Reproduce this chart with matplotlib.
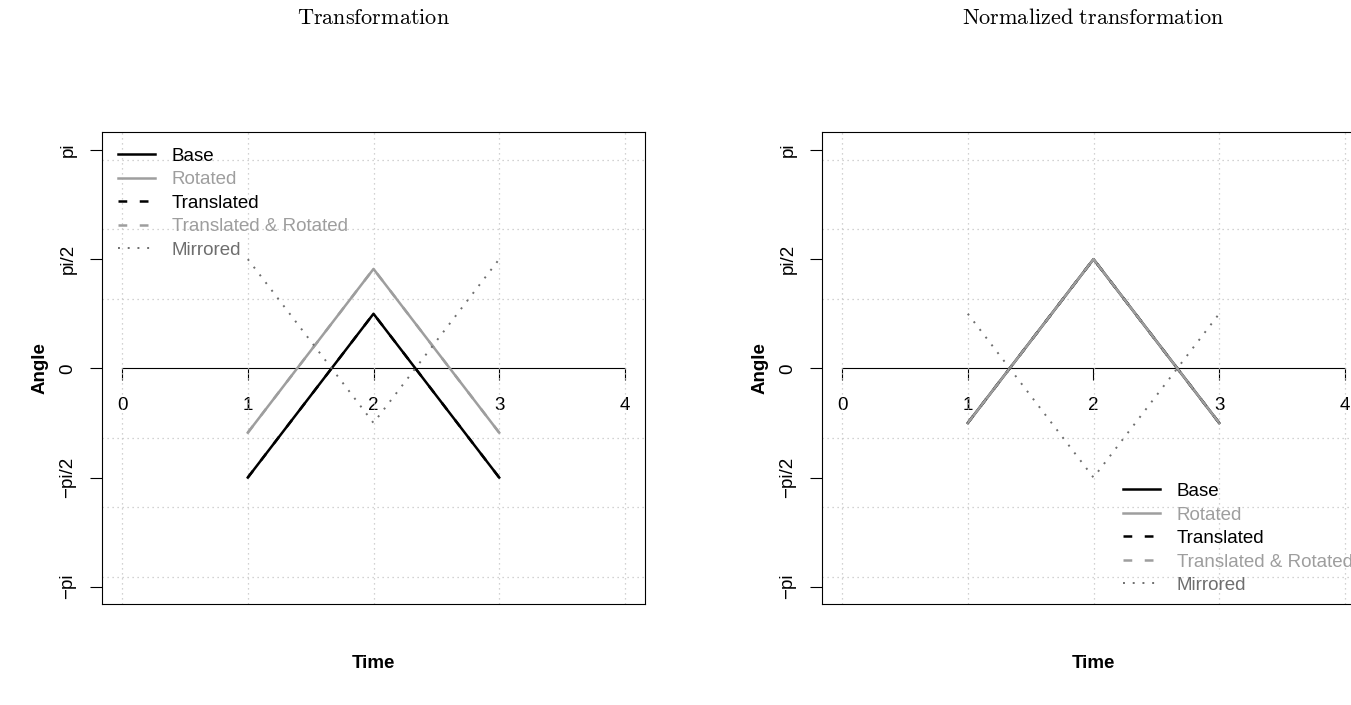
import numpy as np
import matplotlib
matplotlib.use('Agg')
from matplotlib import pyplot as plt

plt.rcParams['font.family'] = 'Liberation Sans'
plt.rcParams['mathtext.fontset'] = 'cm'

time = [1, 2, 3]

# angulos de cada serie
base = [-np.pi / 2, np.pi / 4, -np.pi / 2]
rotated = [-0.925, 1.43, -0.925]
translated = [-np.pi / 2, np.pi / 4, -np.pi / 2]
translated_rotated = [-0.925, 1.43, -0.925]
mirrored = [np.pi / 2, -np.pi / 4, np.pi / 2]

# las mismas series con la media restada
base_n = [-np.pi / 4, np.pi / 2, -np.pi / 4]
rotated_n = [-np.pi / 4, np.pi / 2, -np.pi / 4]
translated_n = [-np.pi / 4, np.pi / 2, -np.pi / 4]
translated_rotated_n = [-np.pi / 4, np.pi / 2, -np.pi / 4]
mirrored_n = [np.pi / 4, -np.pi / 2, np.pi / 4]

names = ['Base', 'Rotated', 'Translated', 'Translated & Rotated', 'Mirrored']
colors = ['black', '#9e9e9e', 'black', '#9e9e9e', '#6e6e6e']
styles = ['-', '-', (0, (3.5, 5)), (0, (3.5, 5)), (0, (1, 4))]
widths = [1.8, 1.8, 1.8, 1.8, 1.4]

y_ticks = [-np.pi, -np.pi / 2, 0, np.pi / 2, np.pi]
y_labels = ['\u2212pi', '\u2212pi/2', '0', 'pi/2', 'pi']
x_ticks = [0, 1, 2, 3, 4]

FS = 13.5
W, H = 1351, 705

fig = plt.figure(figsize=(W / 100, H / 100), dpi=100)


def panel(left_px, series, title, legend_anchor):
    ax = fig.add_axes([left_px / W, 101 / H, 543 / W, 472 / H])
    ax.set_xlim(-0.16, 4.16)
    ax.set_ylim(-3.39, 3.40)

    for vals, name, c, ls, lw in zip(series, names, colors, styles, widths):
        ax.plot(time, vals, color=c, linestyle=ls, linewidth=lw, label=name)

    # rejilla punteada: x en los enteros, y en los enteros -3..3
    ax.set_xticks(x_ticks)
    ax.set_yticks(np.arange(-3, 4), minor=True)
    ax.grid(axis='x', which='major', color='#c4c4c4', linestyle=(0, (1, 3)), linewidth=0.9)
    ax.grid(axis='y', which='minor', color='#c4c4c4', linestyle=(0, (1, 3)), linewidth=0.9)
    ax.set_axisbelow(True)
    ax.tick_params(axis='x', bottom=False, labelbottom=False)
    ax.tick_params(axis='y', which='minor', length=0)

    ax.set_yticks(y_ticks, labels=y_labels, rotation=90, va='center')
    ax.tick_params(axis='y', which='major', direction='out', length=8.3, width=0.8,
                   pad=10, labelsize=FS)
    for sp in ax.spines.values():
        sp.set_linewidth(0.8)

    # eje de tiempo sobre y = 0
    sec = ax.secondary_xaxis(0, transform=ax.transData)
    sec.set_xticks(x_ticks)
    sec.spines['bottom'].set_bounds(0, 4)
    sec.spines['bottom'].set_linewidth(0.8)
    sec.tick_params(direction='out', length=8.3, width=0.8, pad=12, labelsize=FS)

    ax.set_ylabel('Angle', fontsize=FS, fontweight='bold', va='center')
    ax.yaxis.set_label_coords(-0.114, 0.5)
    ax.set_xlabel('Time', fontsize=FS, fontweight='bold', va='center')
    ax.xaxis.set_label_coords(0.5, -0.125)

    ax.legend(loc='upper left', bbox_to_anchor=legend_anchor, frameon=False,
              fontsize=FS, handlelength=1.97, handletextpad=0.9, labelspacing=0.34,
              borderpad=0, borderaxespad=0, labelcolor='linecolor')

    pos = ax.get_position()
    fig.text(pos.x0 + pos.width / 2, 1 - 18 / H, title, ha='center', va='center', fontsize=16)
    return ax


panel(102, [base, rotated, translated, translated_rotated, mirrored],
      r'$\mathrm{Transformation}$', (0.0295, 0.9665))
panel(822, [base_n, rotated_n, translated_n, translated_rotated_n, mirrored_n],
      r'$\mathrm{Normalized\ transformation}$', (0.554, 0.2565))

fig.savefig('out.png', dpi=100)
